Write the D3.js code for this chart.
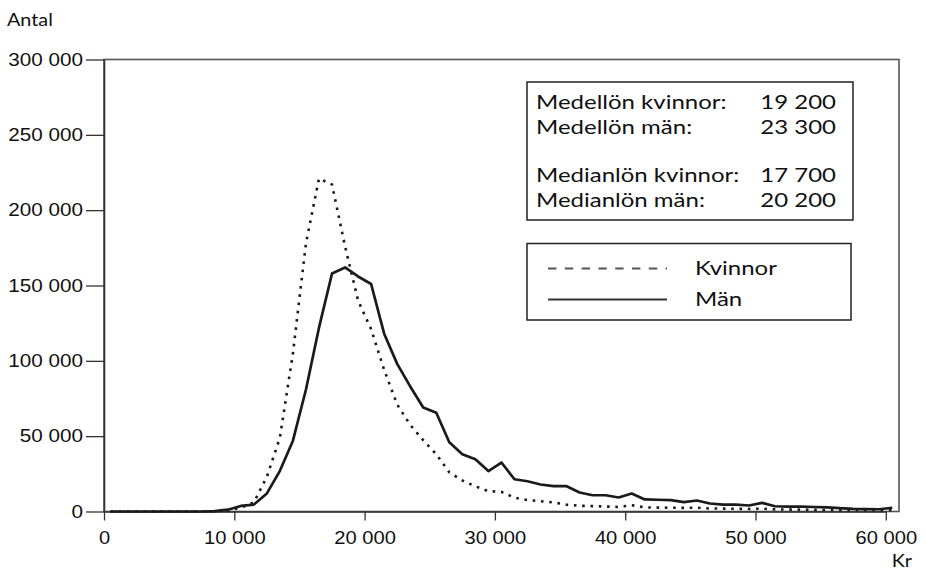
<!DOCTYPE html>
<html>
<head>
<meta charset="utf-8">
<script src="https://cdn.jsdelivr.net/npm/d3@7"></script>
<style>
  html, body { margin: 0; padding: 0; background: #fff; }
  svg { display: block; }
</style>
</head>
<body>
<svg id="chart" width="926" height="575"></svg>
<script>
// ---- Data (monthly salary bins, centre in kr) ----
const salaryBins = [500,1500,2500,3500,4500,5500,6500,7500,8500,9500,
  10500,11500,12500,13500,14500,15500,16500,17500,18500,19500,
  20500,21500,22500,23500,24500,25500,26500,27500,28500,29500,
  30500,31500,32500,33500,34500,35500,36500,37500,38500,39500,
  40500,41500,42500,43500,44500,45500,46500,47500,48500,49500,
  50500,51500,52500,53500,54500,55500,56500,57500,58500,59500,60500];

const womenCounts = [0,0,0,0,0,0,0,0,200,700,
  2500,6000,23000,49000,105000,178000,221000,217000,176000,140000,
  121000,94000,71000,57500,47300,38000,26000,20600,16700,13500,
  13000,9200,7600,6800,6000,4500,3800,3600,3300,3000,
  4200,2700,2600,2500,2400,2500,2000,1900,1800,1700,
  1900,1400,1300,1200,1100,1000,900,900,800,800,900];

const menCounts = [0,0,0,0,0,0,0,0,300,1200,
  3700,4600,12000,27000,47000,81000,122000,158000,162000,156000,
  151000,118000,98000,83000,69000,65500,46000,38000,34700,26800,
  32500,21400,20100,17900,16800,16800,12600,10800,10800,9300,
  12000,8000,7800,7500,6200,7300,5300,4600,4500,4000,
  5700,3500,3300,3200,3000,2800,2200,1800,1600,1500,2500];

const xTicks = [0,10000,20000,30000,40000,50000,60000];
const yTicks = [0,50000,100000,150000,200000,250000,300000];

const statLabels = ["Medellön kvinnor:", "Medellön män:", "Medianlön kvinnor:", "Medianlön män:"];
const statValues = ["19 200", "23 300", "17 700", "20 200"];
const seriesNames = ["Kvinnor", "Män"];

// ---- Layout ----
const svg = d3.select("#chart");
const plotL = 104, plotR = 899, plotT = 59.5, plotB = 511.5;

const x = d3.scaleLinear().domain([0, 60000]).range([104, 885.8]);
const y = d3.scaleLinear().domain([0, 300000]).range([plotB, plotT]);

const loc = d3.formatLocale({decimal: ",", thousands: " ", grouping: [3], currency: ["", " kr"]});
const fmt = loc.format(",d");

const tickFont = "'Liberation Sans', Arial, sans-serif";
const humFont = "Lato, 'Open Sans', sans-serif";
const stretchY = 1.15, stretchX = 1.12, stretchH = 1.2;

function humText(px, py, str, anchor, size) {
  return svg.append("text")
    .attr("transform", `translate(${px},${py}) scale(${stretchH},1)`)
    .attr("text-anchor", anchor || "start")
    .attr("font-family", humFont).attr("font-size", size || 20).attr("fill", "#111")
    .text(str);
}

// frame
svg.append("rect")
  .attr("x", plotL).attr("y", plotT)
  .attr("width", plotR - plotL).attr("height", plotB - plotT)
  .attr("fill", "none").attr("stroke", "#555").attr("stroke-width", 1.6);

// y axis
const yAxis = svg.append("g")
  .attr("transform", `translate(${plotL},0)`)
  .call(d3.axisLeft(y).tickValues(yTicks).tickSize(18).tickSizeOuter(0).tickFormat(fmt));
yAxis.select(".domain").attr("stroke", "#333").attr("stroke-width", 1.6);
yAxis.selectAll(".tick line").attr("stroke", "#333").attr("stroke-width", 1.3);
yAxis.selectAll(".tick text")
  .attr("x", null)
  .attr("transform", `translate(-21,0) scale(${stretchY},1)`)
  .attr("font-family", tickFont).attr("font-size", 18).attr("fill", "#111")
  .attr("text-anchor", "end");

// x axis
const xAxis = svg.append("g")
  .attr("transform", `translate(0,${plotB})`)
  .call(d3.axisBottom(x).tickValues(xTicks).tickSize(9).tickSizeOuter(0).tickFormat(fmt));
xAxis.select(".domain").attr("stroke", "#333").attr("stroke-width", 1.6);
xAxis.selectAll(".tick line").attr("stroke", "#333").attr("stroke-width", 1.3);
xAxis.selectAll(".tick text")
  .attr("y", null).attr("dy", null)
  .attr("transform", `translate(0,32.5) scale(${stretchX},1)`)
  .attr("font-family", tickFont).attr("font-size", 18).attr("fill", "#111")
  .attr("text-anchor", "middle");

// axis titles
humText(7, 26, "Antal", "start", 16.5);
humText(912, 567, "Kr", "end", 16.5);

// lines
const line = d3.line().x((d, i) => x(salaryBins[i])).y(d => y(d));

svg.append("path").datum(womenCounts)
  .attr("d", line)
  .attr("fill", "none").attr("stroke", "#1a1a1a").attr("stroke-width", 2.6)
  .attr("stroke-dasharray", "2.6,5.7");

svg.append("path").datum(menCounts)
  .attr("d", line)
  .attr("fill", "none").attr("stroke", "#1a1a1a").attr("stroke-width", 2.7)
  .attr("stroke-linejoin", "round");

// stats box
svg.append("rect").attr("x", 527).attr("y", 82).attr("width", 326).attr("height", 138)
  .attr("fill", "#fff").attr("stroke", "#222").attr("stroke-width", 1.5);
const statY = [108.5, 133.5, 182, 206.5];
statLabels.forEach((t, i) => {
  humText(536, statY[i], t, "start", 20);
  humText(836, statY[i], statValues[i], "end", 20);
});

// legend box
svg.append("rect").attr("x", 527).attr("y", 243.5).attr("width", 324).attr("height", 76.5)
  .attr("fill", "#fff").attr("stroke", "#222").attr("stroke-width", 1.5);
svg.append("line").attr("x1", 548).attr("x2", 667).attr("y1", 268.5).attr("y2", 268.5)
  .attr("stroke", "#555").attr("stroke-width", 2).attr("stroke-dasharray", "8.4,8.4");
svg.append("line").attr("x1", 548).attr("x2", 667).attr("y1", 299.5).attr("y2", 299.5)
  .attr("stroke", "#333").attr("stroke-width", 2);
humText(695, 275, seriesNames[0], "start", 20);
humText(695, 306, seriesNames[1], "start", 20);
</script>
</body>
</html>
